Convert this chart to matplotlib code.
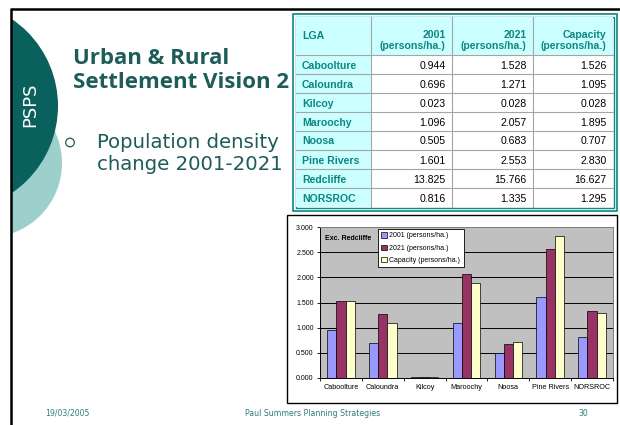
import matplotlib
matplotlib.use('Agg')
import matplotlib.pyplot as plt
from matplotlib.patches import Rectangle, Circle
import numpy as np

# ---------------- data ----------------
lgas = ['Caboolture', 'Caloundra', 'Kilcoy', 'Maroochy', 'Noosa',
        'Pine Rivers', 'Redcliffe', 'NORSROC']
d2001 = [0.944, 0.696, 0.023, 1.096, 0.505, 1.601, 13.825, 0.816]
d2021 = [1.528, 1.271, 0.028, 2.057, 0.683, 2.553, 15.766, 1.335]
dcap = [1.526, 1.095, 0.028, 1.895, 0.707, 2.830, 16.627, 1.295]
table_header = ['LGA', '2001\n(persons/ha.)', '2021\n(persons/ha.)',
                'Capacity\n(persons/ha.)']
series_labels = ['2001 (persons/ha.)', '2021 (persons/ha.)',
                 'Capacity (persons/ha.)']
excluded = 'Redcliffe'
y_ticks = [0.0, 0.5, 1.0, 1.5, 2.0, 2.5, 3.0]

title_lines = 'Urban & Rural\nSettlement Vision 2'
bullet_text = 'Population density\nchange 2001-2021'
side_label = 'PSPS'
footer_date = '19/03/2005'
footer_org = 'Paul Summers Planning Strategies'
footer_page = '30'

# ---------------- styles ----------------
DARK = '#0a605c'
LIGHT = '#9dcfcd'
TEXT_DARK = '#1d5c58'
TEAL = '#0b8782'
CYAN_BG = '#ccffff'
FOOT = '#2d7d78'
series_colors = ['#9999ff', '#993366', '#ffffcc']

W, H = 620, 425
fig = plt.figure(figsize=(W / 100, H / 100), dpi=100)
bg = fig.add_axes([0, 0, 1, 1])
bg.set_xlim(0, W)
bg.set_ylim(H, 0)
bg.axis('off')

# decorative circles
bg.add_patch(Circle((-12.5, 163), 74.5, color=LIGHT, lw=0))
bg.add_patch(Circle((-47, 106), 105, color=DARK, lw=0))
bg.add_patch(Rectangle((0, 0), 11, H, color='white', lw=0))
bg.add_patch(Rectangle((0, 0), W, 8, color='white', lw=0))
bg.plot([11, 11], [8, H], color='black', lw=1.8, solid_capstyle='butt')
bg.plot([11, W], [8.5, 8.5], color='black', lw=1.8, solid_capstyle='butt')

bg.text(30, 105, side_label, rotation=90, color='white', fontsize=13,
        family='DejaVu Sans', ha='center', va='center')

bg.text(73, 70.5, title_lines, color=TEXT_DARK, fontsize=16,
        family='Open Sans', weight='bold', ha='left', va='center',
        linespacing=1.15)
bg.add_patch(Circle((70, 142.5), 4.3, fill=False, edgecolor=TEXT_DARK, lw=0.9))
bg.text(97, 153.5, bullet_text, color=TEXT_DARK, fontsize=14.2,
        family='DejaVu Sans', ha='left', va='center', linespacing=1.2)

# footer
bg.text(45, 413, footer_date, color=FOOT, fontsize=5.6, family='DejaVu Sans',
        ha='left', va='center')
bg.text(313, 413, footer_org, color=FOOT, fontsize=5.6, family='DejaVu Sans',
        ha='center', va='center')
bg.text(583, 413, footer_page, color=FOOT, fontsize=5.6, family='DejaVu Sans',
        ha='center', va='center')

# ---------------- table ----------------
col_edges = [296, 371, 452, 533, 613]
top, head_bot, row_h = 17, 55, 19
n_rows = len(lgas)
bottom = head_bot + row_h * n_rows
bg.add_patch(Rectangle((292.5, 14), 324.5, bottom + 4 - 14, fill=False,
                       edgecolor=TEAL, lw=1.2))
bg.add_patch(Rectangle((295.5, 16.5), 318, bottom + 0.8 - 16.5, fill=False,
                       edgecolor=TEAL, lw=1.0))
# backgrounds
bg.add_patch(Rectangle((col_edges[0], top), col_edges[-1] - col_edges[0],
                       head_bot - top, color=CYAN_BG, lw=0))
bg.add_patch(Rectangle((col_edges[0], head_bot), col_edges[1] - col_edges[0],
                       bottom - head_bot, color=CYAN_BG, lw=0))
for xe in col_edges[1:-1]:
    bg.plot([xe, xe], [top, bottom], color='#a5a5a5', lw=0.8)
for r in range(n_rows):
    yy = head_bot + r * row_h
    bg.plot([col_edges[0], col_edges[-1]], [yy, yy], color='#a5a5a5', lw=0.8)

tfont = dict(family='Liberation Sans', fontsize=7.6)
bg.text(302, 36, table_header[0], color=TEAL, weight='bold', ha='left',
        va='center', **tfont)
for j in range(1, 4):
    bg.text(col_edges[j + 1] - 6.5, 40.5, table_header[j], color=TEAL,
            weight='bold', ha='right', va='center', linespacing=1.15, **tfont)
cols = [d2001, d2021, dcap]
for r, name in enumerate(lgas):
    yc = head_bot + (r + 0.5) * row_h + 1
    bg.text(302, yc, name, color=TEAL, weight='bold', ha='left', va='center',
            **tfont)
    for j, vals in enumerate(cols):
        bg.text(col_edges[j + 2] - 6.5, yc, f'{vals[r]:.3f}', color='black',
                ha='right', va='center', **tfont)

# ---------------- chart ----------------
bg.add_patch(Rectangle((287, 215), 330, 188, facecolor='white',
                       edgecolor='black', lw=1.0))

keep = [i for i, n in enumerate(lgas) if n != excluded]
cats = [lgas[i] for i in keep]
series = [[s[i] for i in keep] for s in cols]

ax = fig.add_axes([320 / W, 1 - 378 / H, 293 / W, 151 / H])
ax.set_facecolor('#c0c0c0')
x = np.arange(len(cats))
w = 0.22
for k, (vals, c, lab) in enumerate(zip(series, series_colors, series_labels)):
    ax.bar(x + (k - 1) * w, vals, w, color=c, edgecolor='black', lw=0.5,
           label=lab, zorder=3)
ax.set_ylim(0, 3)
ax.set_xlim(-0.5, len(cats) - 0.5)
ax.set_yticks(y_ticks)
ax.set_yticklabels([f'{v:.3f}' for v in y_ticks], family='Liberation Sans',
                   fontsize=5)
ax.set_xticks(x)
ax.set_xticklabels(cats, family='Liberation Sans', fontsize=5.2)
ax.set_xticks(np.arange(-0.5, len(cats), 1), minor=True)
ax.tick_params(axis='x', which='major', length=0, pad=4)
ax.tick_params(axis='x', which='minor', length=2.5, width=0.6)
ax.tick_params(axis='y', length=2.5, width=0.6, pad=2)
ax.yaxis.grid(True, color='black', lw=0.7, zorder=1)
ax.set_axisbelow(True)
for s in ['left', 'bottom']:
    ax.spines[s].set_color('black')
    ax.spines[s].set_linewidth(0.7)
for s in ['top', 'right']:
    ax.spines[s].set_color('#808080')
    ax.spines[s].set_linewidth(0.7)

leg = ax.legend(loc='upper left', bbox_to_anchor=(0.198, 0.985),
                prop={'family': 'Liberation Sans', 'size': 5},
                frameon=True, fancybox=False, framealpha=1, edgecolor='black',
                borderpad=0.45, handlelength=0.8, handleheight=0.8,
                handletextpad=0.4, labelspacing=0.75, borderaxespad=0)
leg.get_frame().set_linewidth(0.6)
ax.text(0.017, 0.927, 'Exc. ' + excluded, transform=ax.transAxes,
        family='Liberation Sans', fontsize=5, weight='bold', va='center',
        ha='left')

fig.savefig('out.png', dpi=100)
